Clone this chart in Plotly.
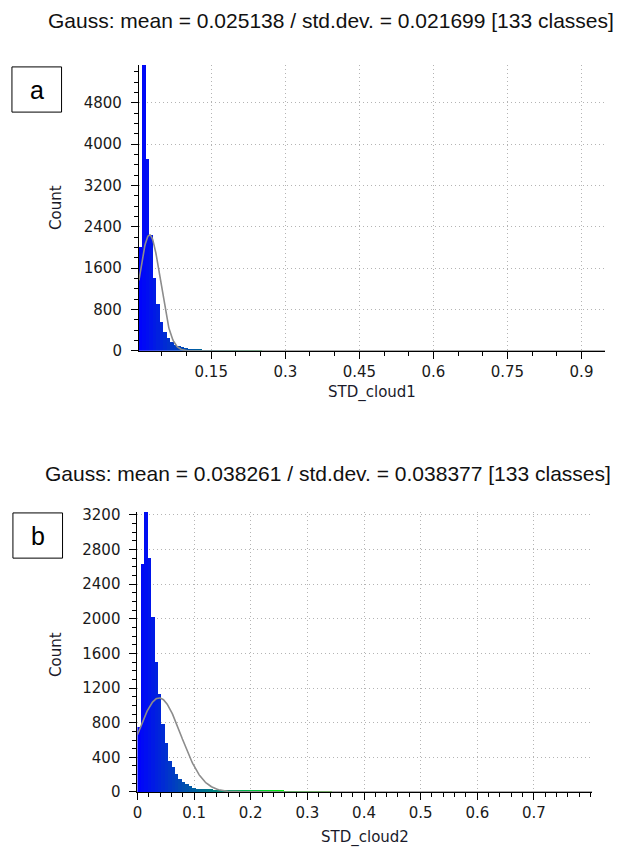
import numpy as np
import plotly.graph_objects as go

W, H = 629, 854

# ---------------- data: panel a ----------------
A_TITLE = "Gauss: mean = 0.025138 / std.dev. = 0.021699 [133 classes]"
A_MEAN, A_STD = 0.025138, 0.021699
A_CLASSES = 133
A_XMIN, A_XMAX = 0.0035, 0.948
A_COUNTS = [2014, 5530, 3706, 2242, 1406, 912, 551, 361, 247, 171, 114,
            88, 70, 55, 45, 38, 33, 28, 24, 21, 19, 17, 15, 14, 13, 12, 11,
            10, 10, 9, 9, 8, 8, 7, 7, 6, 6, 6, 5, 5, 5, 4, 4, 4, 3, 3, 3, 3,
            2, 2]
A_YMAX = 5530
A_GAUSS_PEAK = 2242
A_XTICKS = [0.15, 0.3, 0.45, 0.6, 0.75, 0.9]
A_XTICKTEXT = ["0.15", "0.3", "0.45", "0.6", "0.75", "0.9"]
A_YTICKS = [0, 800, 1600, 2400, 3200, 4000, 4800]
A_YTICKTEXT = ["0", "800", "1600", "2400", "3200", "4000", "4800"]
A_XLABEL = "STD_cloud1"

# ---------------- data: panel b ----------------
B_TITLE = "Gauss: mean = 0.038261 / std.dev. = 0.038377 [133 classes]"
B_MEAN, B_STD = 0.038261, 0.038377
B_CLASSES = 133
B_XMIN, B_XMAX = 0.0, 0.803
B_COUNTS = [745, 2629, 3234, 2697, 2024, 1502, 1135, 783, 560, 360, 292,
            208, 151, 113, 87, 65, 49, 38, 34, 32, 30, 29, 28, 27, 26, 25,
            25, 24, 24, 23, 23, 22, 22, 21, 21, 20, 20, 19, 19, 18, 18, 17,
            17, 16, 16, 15, 15, 14, 14, 13, 12, 10, 9, 8, 7, 6, 6, 5, 5, 4,
            4, 4, 3, 3, 3, 3, 2, 2, 2, 2]
B_YMAX = 3234
B_GAUSS_PEAK = 1086
B_XTICKS = [0, 0.1, 0.2, 0.3, 0.4, 0.5, 0.6, 0.7]
B_XTICKTEXT = ["0", "0.1", "0.2", "0.3", "0.4", "0.5", "0.6", "0.7"]
B_YTICKS = [0, 400, 800, 1200, 1600, 2000, 2400, 2800, 3200]
B_YTICKTEXT = ["0", "400", "800", "1200", "1600", "2000", "2400", "2800", "3200"]
B_XLABEL = "STD_cloud2"

YLABEL = "Count"

# ---------------- style ----------------
TICK_FONT = dict(family="DejaVu Sans", size=15, color="#1a1a1a")
LABEL_FONT = dict(family="DejaVu Sans", size=15, color="#1a1a2a")
TITLE_FONT = dict(family="Liberation Sans, Arial", size=21, color="#111111")
BOX_FONT = dict(family="Liberation Sans, Arial", size=25, color="#000000")
GAUSS_COLOR = "#8c8c8c"
GRID_COLOR = "#b4b4b4"


def px(x):
    return x / W


def py(y):
    return 1 - y / H


def scale_color(v, vmin, vmax):
    """Blue > Green > Yellow > Red colour scale."""
    t = min(max((v - vmin) / (vmax - vmin), 0.0), 1.0)
    stops = [(0.0, (0, 0, 255)), (1 / 3, (0, 255, 0)),
             (2 / 3, (255, 255, 0)), (1.0, (255, 0, 0))]
    for (t0, c0), (t1, c1) in zip(stops[:-1], stops[1:]):
        if t <= t1:
            f = (t - t0) / (t1 - t0)
            c = [round(a + (b - a) * f) for a, b in zip(c0, c1)]
            return f"rgb({c[0]},{c[1]},{c[2]})"
    return "rgb(255,0,0)"


fig = go.Figure()


def add_panel(idx, counts, xmin, xmax, classes, mean, std, peak):
    bw = (xmax - xmin) / classes
    centers = [xmin + (k + 0.5) * bw for k in range(len(counts))]
    colors = [scale_color(c, xmin, xmax) for c in centers]
    xa = "x" if idx == 1 else "x2"
    ya = "y" if idx == 1 else "y2"
    fig.add_trace(go.Bar(x=centers, y=counts, width=bw, marker=dict(color=colors, line=dict(width=0)),
                         xaxis=xa, yaxis=ya, showlegend=False, hoverinfo="skip"))
    gx = np.linspace(xmin, xmax, 800)
    gy = peak * np.exp(-0.5 * ((gx - mean) / std) ** 2)
    fig.add_trace(go.Scatter(x=gx, y=gy, mode="lines", line=dict(color=GAUSS_COLOR, width=1.6),
                             xaxis=xa, yaxis=ya, showlegend=False, hoverinfo="skip"))


add_panel(1, A_COUNTS, A_XMIN, A_XMAX, A_CLASSES, A_MEAN, A_STD, A_GAUSS_PEAK)
add_panel(2, B_COUNTS, B_XMIN, B_XMAX, B_CLASSES, B_MEAN, B_STD, B_GAUSS_PEAK)


def axis_cfg(domain, rng, tickvals, ticktext, minor_dtick, anchor, standoff):
    return dict(domain=domain, range=rng, anchor=anchor, tickmode="array",
                tickvals=tickvals, ticktext=ticktext, ticks="outside", ticklen=7,
                tickwidth=1, tickcolor="black", showline=True, linecolor="black",
                linewidth=1, showgrid=True, gridcolor=GRID_COLOR, griddash="1px,3px",
                gridwidth=1, zeroline=False, tickfont=TICK_FONT,
                ticklabelstandoff=standoff,
                minor=dict(ticks="outside", ticklen=4, tickcolor="black",
                           tickmode="linear", tick0=0, dtick=minor_dtick, showgrid=False))


# plot rectangles in pixels
A_L, A_R, A_T, A_B = 135, 605, 60, 351
B_L, B_R, B_T, B_B = 133.5, 592, 515, 800

annotations = [
    dict(text=A_TITLE, x=px(616), y=py(15), xanchor="right", yanchor="middle", font=TITLE_FONT),
    dict(text=B_TITLE, x=px(613), y=py(476), xanchor="right", yanchor="middle", font=TITLE_FONT),
    dict(text=A_XLABEL, x=px((A_L + A_R) / 2), y=py(393), xanchor="center", yanchor="middle", font=LABEL_FONT),
    dict(text=B_XLABEL, x=px((B_L + B_R) / 2), y=py(846), xanchor="center", yanchor="middle", font=LABEL_FONT),
    dict(text=YLABEL, x=px(52), y=py(205), xanchor="center", yanchor="middle", textangle=-90, font=LABEL_FONT),
    dict(text=YLABEL, x=px(52), y=py(660), xanchor="center", yanchor="middle", textangle=-90, font=LABEL_FONT),
    dict(text="a", x=px(32), y=py(85), xanchor="center", yanchor="middle", font=BOX_FONT),
    dict(text="b", x=px(33), y=py(539), xanchor="center", yanchor="middle", font=BOX_FONT),
]
for a in annotations:
    a.update(xref="paper", yref="paper", showarrow=False)

shapes = [
    dict(type="rect", xref="paper", yref="paper", x0=px(7), x1=px(57), y0=py(108), y1=py(62),
         line=dict(color="black", width=1), fillcolor="white"),
    dict(type="rect", xref="paper", yref="paper", x0=px(8), x1=px(58), y0=py(562), y1=py(516),
         line=dict(color="black", width=1), fillcolor="white"),
]

fig.update_layout(
    width=W, height=H, margin=dict(l=0, r=0, t=0, b=0),
    paper_bgcolor="white", plot_bgcolor="white", bargap=0, barmode="overlay",
    xaxis=axis_cfg([px(A_L), px(A_R)], [A_XMIN, A_XMAX], A_XTICKS, A_XTICKTEXT, 0.05, "y", 0),
    yaxis=axis_cfg([py(A_B), py(A_T)], [0, A_YMAX], A_YTICKS, A_YTICKTEXT, 200, "x", 6),
    xaxis2=axis_cfg([px(B_L), px(B_R)], [B_XMIN, B_XMAX], B_XTICKS, B_XTICKTEXT, 0.02, "y2", 0),
    yaxis2=axis_cfg([py(B_B), py(B_T)], [0, B_YMAX], B_YTICKS, B_YTICKTEXT, 100, "x2", 6),
    annotations=annotations, shapes=shapes, hovermode=False,
)

fig.write_html("out.html", config={"displayModeBar": False, "staticPlot": True},
               post_script="document.body.style.margin='0px';document.body.style.overflow='hidden';")
